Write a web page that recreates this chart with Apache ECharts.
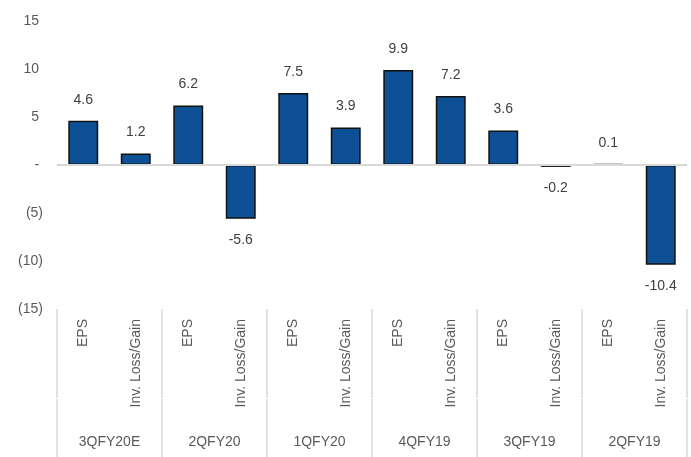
<!DOCTYPE html>
<html><head><meta charset="utf-8">
<script src="https://cdn.jsdelivr.net/npm/echarts@6/dist/echarts.min.js"></script>
<style>html,body{margin:0;padding:0;background:#fff}#c{width:691px;height:457px}</style>
</head><body><div id="c"></div>
<script>
const groups = ['3QFY20E', '2QFY20', '1QFY20', '4QFY19', '3QFY19', '2QFY19'];
const subCategories = ['EPS', 'Inv. Loss/Gain'];
const values = [4.6, 1.2, 6.2, -5.6, 7.5, 3.9, 9.9, 7.2, 3.6, -0.2, 0.1, -10.4];
const yTicks = [-15, -10, -5, 0, 5, 10, 15];

const categories = [];
groups.forEach(g => subCategories.forEach(s => categories.push(s)));

const chart = echarts.init(document.getElementById('c'));
const font = 'Arial, "Liberation Sans", sans-serif';
const sepStyle = { color: '#D9D9D9', width: 1.5 };
function sepAxis(max, interval, offset, length) {
  return {
    type: 'value', position: 'bottom', offset: offset, min: 0, max: max, interval: interval,
    axisLine: { show: false, onZero: false }, splitLine: { show: false },
    axisTick: { show: true, length: length, lineStyle: sepStyle },
    axisLabel: { show: false }
  };
}
chart.setOption({
  animation: false,
  grid: { left: 57, right: 4, top: 21, bottom: 148, containLabel: false },
  xAxis: [{
    type: 'category', data: categories, position: 'bottom',
    axisLine: { show: false, onZero: false },
    axisTick: { show: false },
    axisLabel: { rotate: 90, interval: 0, margin: 10, fontFamily: font, fontSize: 14, color: '#595959' }
  }, {
    type: 'category', data: groups, position: 'bottom', offset: 90,
    axisLine: { show: false, onZero: false },
    axisTick: { show: false },
    axisLabel: { margin: 36, fontFamily: font, fontSize: 14, color: '#595959' }
  },
    sepAxis(categories.length, subCategories.length, 0, 89),
    sepAxis(groups.length, 1, 90, 60)
  ],
  yAxis: {
    type: 'value', min: yTicks[0], max: yTicks[yTicks.length - 1], interval: 5,
    axisLine: { show: false }, axisTick: { show: false }, splitLine: { show: false },
    axisLabel: {
      margin: 14, fontFamily: font, fontSize: 14, color: '#595959',
      formatter: v => v > 0 ? v + ' ' : (v < 0 ? '(' + (-v) + ')' : '- ')
    }
  },
  series: [{
    type: 'bar', xAxisIndex: 0, barWidth: '57%',
    data: values.map(v => ({
      value: v,
      label: { position: v >= 0 ? 'top' : 'bottom' }
    })),
    itemStyle: { color: '#0E5096', borderColor: '#111', borderWidth: 1.5 },
    label: { show: true, distance: 14, fontFamily: font, fontSize: 14, color: '#404040' },
    markLine: {
      silent: true, symbol: 'none', label: { show: false },
      lineStyle: { color: '#D9D9D9', width: 2, type: 'solid' },
      data: [{ yAxis: 0 }]
    },
    z: 3
  }]
});
</script></body></html>
